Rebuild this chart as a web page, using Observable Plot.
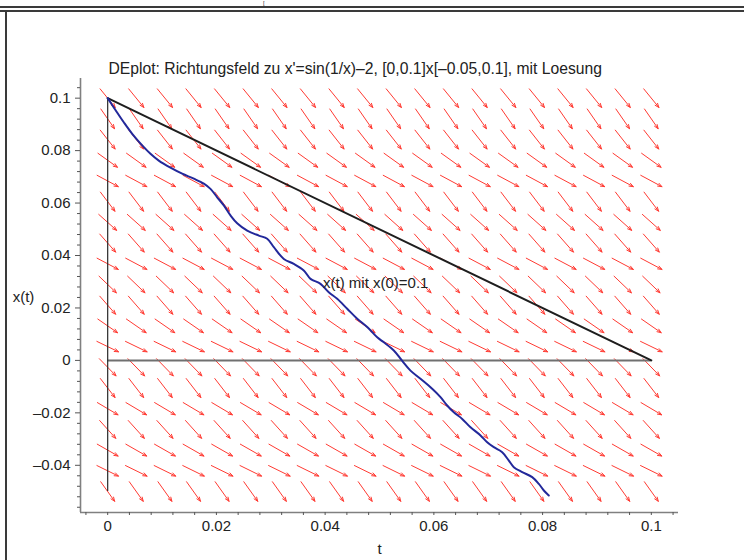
<!DOCTYPE html>
<html><head><meta charset="utf-8">
<script src="https://cdn.jsdelivr.net/npm/d3@7"></script>
<script src="https://cdn.jsdelivr.net/npm/@observablehq/plot@0.6"></script>
<style>
html,body{margin:0;background:#fff;overflow:hidden;}
#wrap{position:relative;width:744px;height:560px;overflow:hidden;background:#fff;font-family:"Liberation Sans",Arial,Helvetica,sans-serif;}
#chart{position:absolute;left:0;top:0;}
.bar{position:absolute;background:#3a3a3a;}
#brk{position:absolute;left:263px;top:0px;font-size:6px;line-height:6px;color:#333;}
</style></head><body>
<div id="wrap">
  <div id="chart"></div>
  <span id="brk">[</span>
  <div class="bar" style="left:0;top:6px;width:744px;height:2px;"></div>
  <div class="bar" style="left:0;top:10px;width:744px;height:2px;"></div>
  <div class="bar" style="left:5px;top:10px;width:2px;height:550px;"></div>
</div>
<script>
// Direction field grid (t columns, x rows) and slope x' at each row
const colT = [0, 0.00526, 0.01053, 0.01579, 0.02105, 0.02632, 0.03158, 0.03684, 0.04211, 0.04737,
              0.05263, 0.05789, 0.06316, 0.06842, 0.07368, 0.07895, 0.08421, 0.08947, 0.09474, 0.1];
const rowX = [-0.05, -0.04211, -0.03421, -0.02632, -0.01842, -0.01053, -0.00263, 0.00526, 0.01316, 0.02105,
              0.02895, 0.03684, 0.04474, 0.05263, 0.06053, 0.06842, 0.07632, 0.08421, 0.09211, 0.1];
const rowSlope = [-2.913, -1.018, -1.183, -2.297, -1.230, -2.683, -2.132, -1.002, -1.434, -2.367,
                  -1.987, -1.095, -2.354, -1.850, -2.727, -1.112, -1.489, -2.637, -2.990, -2.544];

// Solution curve x(t) with x(0)=0.1
const solT = [0, 0.00143, 0.00296, 0.00451, 0.00635, 0.00787, 0.00940, 0.01155, 0.01370, 0.01584,
  0.01768, 0.01891, 0.02014, 0.02136, 0.02259, 0.02382, 0.02566, 0.02780, 0.02934, 0.03056,
  0.03240, 0.03423, 0.03607, 0.03731, 0.03915, 0.04067, 0.04222, 0.04406, 0.04590, 0.04774,
  0.04958, 0.05079, 0.05263, 0.05418, 0.05570, 0.05754, 0.05969, 0.06122, 0.06245, 0.06367,
  0.06521, 0.06674, 0.06858, 0.06981, 0.07103, 0.07257, 0.07379, 0.07471, 0.07625, 0.07809,
  0.07931, 0.08023, 0.08114];
const solX = [0.1, 0.0955, 0.0908, 0.0864, 0.0820, 0.0788, 0.0762, 0.0735, 0.0712, 0.0693,
  0.0674, 0.0654, 0.0622, 0.0591, 0.0553, 0.0523, 0.0495, 0.0476, 0.0464, 0.0432,
  0.0387, 0.0368, 0.0343, 0.0311, 0.0292, 0.0260, 0.0235, 0.0197, 0.0159, 0.0127,
  0.0088, 0.0069, 0.0038, -0.0002, -0.0039, -0.0070, -0.0108, -0.0140, -0.0172, -0.0198,
  -0.0223, -0.0255, -0.0286, -0.0312, -0.0331, -0.0350, -0.0382, -0.0407, -0.0426, -0.0445,
  -0.0471, -0.0496, -0.0515];

// Straight black line
const lineT = [0, 0.1];
const lineX = [0.1, 0];

const yTicks = [-0.04, -0.02, 0, 0.02, 0.04, 0.06, 0.08, 0.1];
const yTickLabels = ["\u20130.04", "\u20130.02", "0", "0.02", "0.04", "0.06", "0.08", "0.1"];
const xTicks = [0, 0.02, 0.04, 0.06, 0.08, 0.1];
const xTickLabels = ["0", "0.02", "0.04", "0.06", "0.08", "0.1"];

const titleText = "DEplot: Richtungsfeld zu x'=sin(1/x)\u20132, [0,0.1]x[\u20130.05,0.1], mit Loesung";
const curveLabel = "x(t) mit x(0)=0.1";
const curveLabelPos = [0.0493, 0.0293];

// layout
const W = 744, H = 560, mL = 80, mR = 66, mT = 78, mB = 48;
const xDom = [-0.005, 0.105], yDom = [-0.058, 0.1075];
const kx = (W - mL - mR) / (xDom[1] - xDom[0]);
const ky = (H - mT - mB) / (yDom[1] - yDom[0]);
const halfLen = 12;

const arrows = [];
rowX.forEach((x, i) => {
  const s = rowSlope[i] * ky / kx;      // screen slope (px up per px right)
  const n = Math.hypot(1, s);
  const ux = halfLen / n, uy = halfLen * s / n;
  colT.forEach(t => {
    arrows.push({x1: t - ux / kx, y1: x - uy / ky, x2: t + ux / kx, y2: x + uy / ky});
  });
});
const sol = solT.map((t, i) => ({t, x: solX[i]}));
const diag = lineT.map((t, i) => ({t, x: lineX[i]}));

const xMinor = d3.range(-1, 27).map(k => +(k * 0.004).toFixed(3)).filter(v => !xTicks.some(m => Math.abs(m - v) < 1e-9));
const yMinor = d3.range(-14, 27).map(k => +(k * 0.004).toFixed(3)).filter(v => !yTicks.some(m => Math.abs(m - v) < 1e-9));
const yLab = new Map(yTicks.map((v, i) => [v, yTickLabels[i]]));
const xLab = new Map(xTicks.map((v, i) => [v, xTickLabels[i]]));

const font = "'Liberation Sans', Arial, Helvetica, sans-serif";
const plot = Plot.plot({
  width: W, height: H,
  marginLeft: mL, marginRight: mR, marginTop: mT, marginBottom: mB,
  x: {domain: xDom, axis: null},
  y: {domain: yDom, axis: null},
  style: {fontFamily: font, fontSize: "15px", color: "#222", background: "transparent", overflow: "visible"},
  marks: [
    Plot.arrow(arrows, {x1: "x1", y1: "y1", x2: "x2", y2: "y2", stroke: "#ff3a32", strokeWidth: 1, headLength: 6.5, headAngle: 42}),
    Plot.ruleY([0], {x1: 0, x2: 0.1, stroke: "#707070", strokeWidth: 2}),
    Plot.ruleX([0], {y1: -0.05, y2: 0.1, stroke: "#2a2a2a", strokeWidth: 1.2}),
    Plot.line(diag, {x: "t", y: "x", stroke: "#1e1e1e", strokeWidth: 2}),
    Plot.line(sol, {x: "t", y: "x", stroke: "#22289a", strokeWidth: 2, curve: "catmull-rom"}),
    Plot.text([curveLabel], {x: curveLabelPos[0], y: curveLabelPos[1], text: d => d, fontSize: 15, fill: "#222"}),
    // frame axes
    Plot.ruleX([xDom[0]], {stroke: "#808080", strokeWidth: 1.6}),
    Plot.ruleY([yDom[0]], {stroke: "#808080", strokeWidth: 1.6}),
    Plot.axisY(yTicks, {anchor: "left", tickSize: 5, tickPadding: 5, tickFormat: d => yLab.get(d), fontSize: 15, label: null, stroke: "#555"}),
    Plot.axisY(yMinor, {anchor: "left", tickSize: 3, tickFormat: () => "", label: null, stroke: "#555"}),
    Plot.axisX(xTicks, {anchor: "bottom", tickSize: 3, tickPadding: 5, tickFormat: d => xLab.get(d), fontSize: 15, label: null, stroke: "#555"}),
    Plot.axisX(xMinor, {anchor: "bottom", tickSize: 3, tickFormat: () => "", label: null, stroke: "#555"}),
    Plot.text(["x(t)"], {frameAnchor: "left", dx: -57, dy: 2, textAnchor: "middle", lineAnchor: "middle", fontSize: 15, fill: "#222"}),
    Plot.text(["t"], {frameAnchor: "bottom", dx: 0, dy: 37, textAnchor: "middle", lineAnchor: "middle", fontSize: 15, fill: "#222"}),
    Plot.text([titleText], {frameAnchor: "top-left", dx: 28, dy: -10, textAnchor: "start", lineAnchor: "middle", fontSize: 15.7, fill: "#222"})
  ]
});
document.getElementById("chart").appendChild(plot);
</script>
</body></html>
